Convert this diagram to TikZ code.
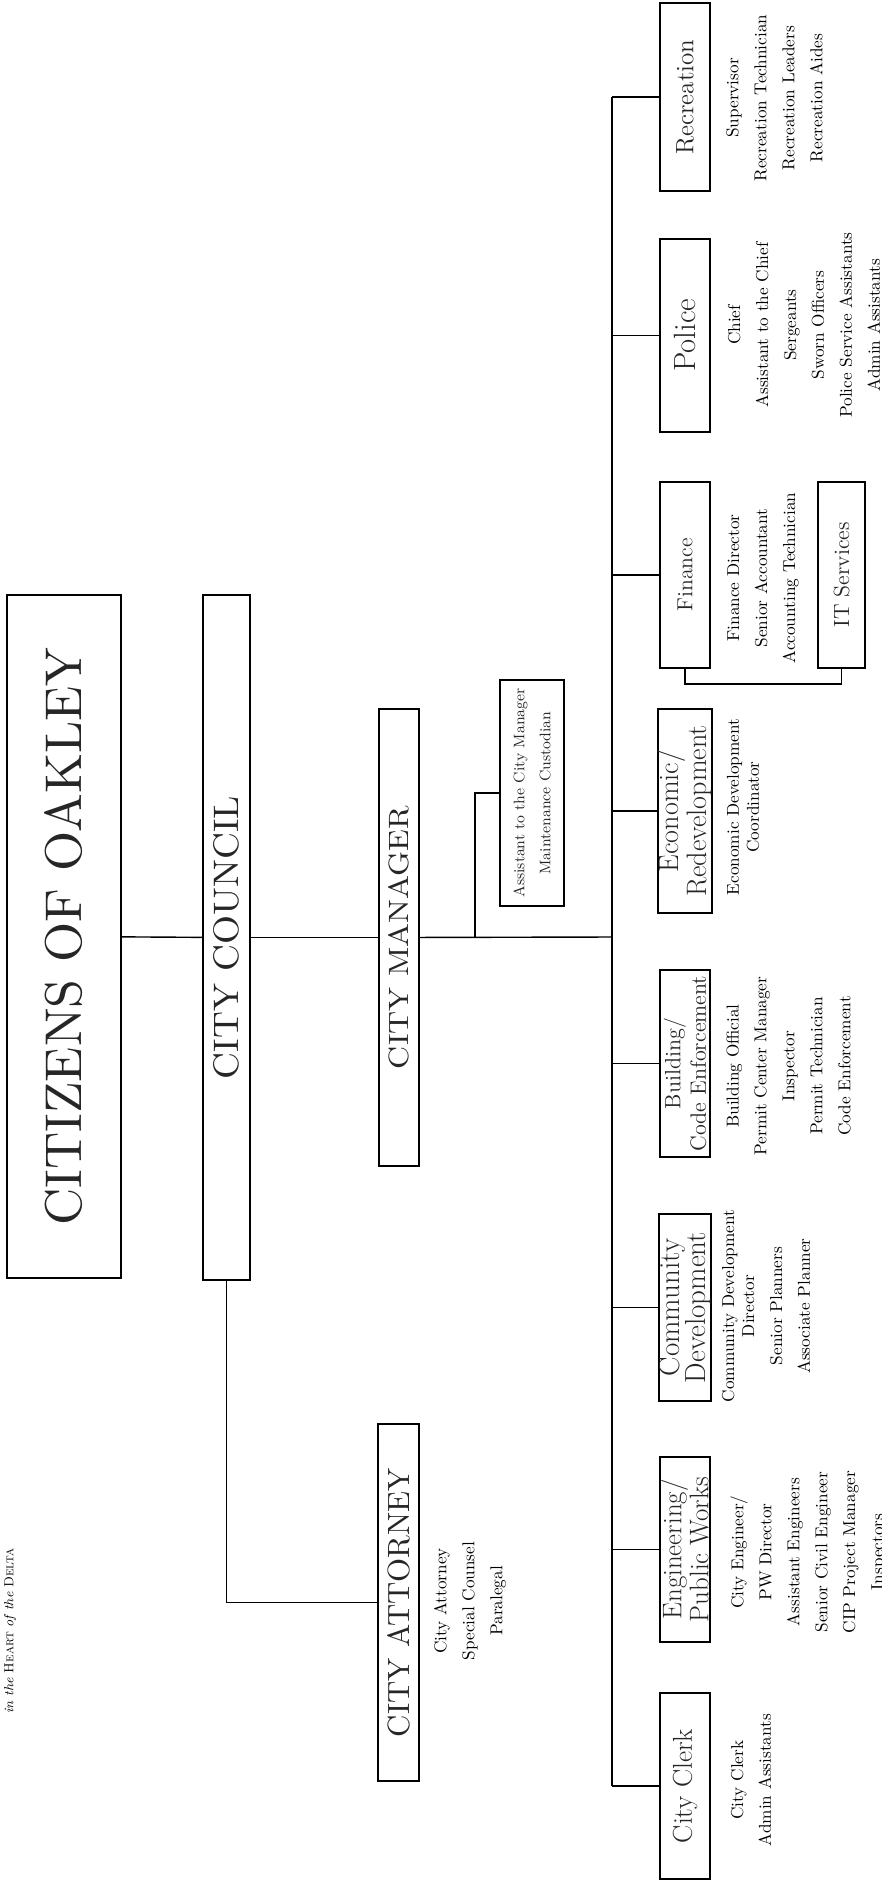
\documentclass[tikz,border=0pt]{standalone}
\usepackage{fontspec}
\usepackage{graphicx}
\usetikzlibrary{calc, positioning}

\begin{document}
\begin{tikzpicture}[x=0.2mm, y=-0.2mm,
  box/.style={draw, line width=1.1pt, rotate=90, inner sep=0pt, align=center, text=black!85},
  dept/.style={box, minimum height=50*\px},
  items/.style={rotate=90, inner sep=0pt, align=center, font=\fontsize{9.8}{15.9}\selectfont},
  link/.style={line width=0.8pt}]
\def\px{0.2mm}
\useasboundingbox (0,0) rectangle (882,1881);
\clip (0,0) rectangle (882,1881);

\node[rotate=90, inner sep=0pt, font=\fontsize{7.5}{9}\selectfont] (tag) at (10,1631)
  {\textit{in the} \textsc{Heart} \textit{of the} \textsc{Delta}};

\node[box, minimum width=683*\px, minimum height=114*\px] (cit) at (64,936.5)
  {\resizebox{115.6mm}{7.4mm}{CITIZENS OF OAKLEY}};
\node[box, minimum width=685*\px, minimum height=47*\px] (cnc) at (226.5,937.5)
  {\resizebox{56.6mm}{5mm}{CITY COUNCIL}};
\node[box, minimum width=457*\px, minimum height=40*\px] (mgr) at (399,937.5)
  {\resizebox{52.6mm}{4mm}{CITY MANAGER}};
\node[box, minimum width=357*\px, minimum height=41*\px] (att) at (398.5,1602.5)
  {\resizebox{53.8mm}{4.4mm}{CITY ATTORNEY}};
\node[box, line width=0.9pt, minimum width=226*\px, minimum height=64*\px,
  font=\fontsize{8.7}{14.8}\selectfont] (asst) at (532,793)
  {Assistant to the City Manager\\Maintenance Custodian};

\node[dept, minimum width=188*\px, font=\fontsize{14.3}{15}\selectfont] (rec) at (685,97) {Recreation};
\node[dept, minimum width=193*\px, font=\fontsize{17.5}{15}\selectfont] (pol) at (685,335.5) {Police};
\node[dept, minimum width=186*\px, font=\fontsize{12.4}{15}\selectfont] (fin) at (685,575) {Finance};
\node[dept, minimum width=186*\px, minimum height=47*\px, font=\fontsize{12.5}{15}\selectfont] (its) at (841.5,575) {IT Services};
\node[dept, minimum width=204*\px, font=\fontsize{16}{15}\selectfont] (eco) at (685,811) {Economic/\\Redevelopment};
\node[dept, minimum width=187*\px, font=\fontsize{12.6}{14.5}\selectfont] (bld) at (685,1063.5) {Building/\\Code Enforcement};
\node[dept, minimum width=187*\px, font=\fontsize{16.5}{15}\selectfont] (cdv) at (685,1307.5) {Community\\Development};
\node[dept, minimum width=185*\px, font=\fontsize{15.3}{14.2}\selectfont] (eng) at (685,1549.5) {Engineering/\\Public Works};
\node[dept, minimum width=186*\px, font=\fontsize{15.5}{15}\selectfont] (clk) at (685,1786) {City Clerk};

\node[items] (reci) at (774.5,98) {Supervisor\\Recreation Technician\\Recreation Leaders\\Recreation Aides};
\node[items] (poli) at (804,325) {Chief\\Assistant to the Chief\\Sergeants\\Sworn Officers\\Police Service Assistants\\Admin Assistants};
\node[items] (fini) at (763,578) {Finance Director\\Senior Accountant\\Accounting Technician};
\node[items, font=\fontsize{9.8}{11.4}\selectfont] (ecoi) at (743,807) {Economic Development\\Coordinator};
\node[items] (bldi) at (788.5,1066) {Building Official\\Permit Center Manager\\Inspector\\Permit Technician\\Code Enforcement};
\node[items] (cdvi) at (766,1306) {Community Development\\[-4.5pt]Director\\Senior Planners\\Associate Planner};
\node[items] (engi) at (808.5,1552) {City Engineer/\\PW Director\\Assistant Engineers\\Senior Civil Engineer\\CIP Project Manager\\Inspectors};
\node[items] (clki) at (751,1780) {City Clerk\\Admin Assistants};
\node[items] (atti) at (470,1601) {City Attorney\\Special Counsel\\Paralegal};

\coordinate (jn) at (612,937);
\coordinate (br) at (475,937);

\draw[link] (cit) -- (cnc);
\draw[link] (cnc) -- (mgr);
\draw[link] (mgr) -- (jn);
\draw[link] (br) |- (asst);
\draw[link] (cnc.west) |- (att);
\draw[link] (jn |- rec) -- (jn |- clk);
\foreach \d in {rec, pol, fin, eco, bld, cdv, eng, clk}
  \draw[link] (jn |- \d) -- (\d);
\draw[link] (fin.west) -- ++(0,15) -| (its.west);
\end{tikzpicture}
\end{document}
